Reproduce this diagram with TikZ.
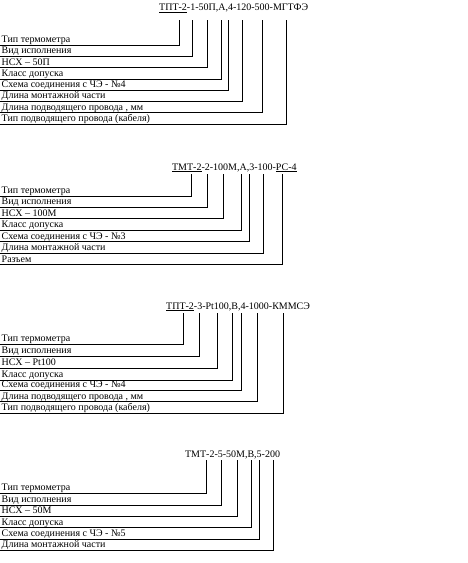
\documentclass[tikz,border=0pt]{standalone}
\usepackage{fontspec}
\setmainfont{Liberation Serif}
\usetikzlibrary{positioning}

\begin{document}
\begin{tikzpicture}[
    x=1pt, y=-1pt,
    font=\fontsize{10}{12}\selectfont,
    code/.style={anchor=base west, inner sep=0pt},
    lbl/.style={
        anchor=south west,
        inner xsep=1.5pt,
        inner ysep=2pt,
        text depth=0pt
    },
    conn/.style={line width=0.9pt}
]
\useasboundingbox (0,0) rectangle (468,563);

% Block 1
\node[code] (t1) at (159,10.5) {\underline{ТПТ-2}-1-50П,А,4-120-500-МГТФЭ};

\coordinate (a1) at (179,20);
\coordinate (a2) at (192,20);
\coordinate (a3) at (207,20);
\coordinate (a4) at (221,20);
\coordinate (a5) at (228,20);
\coordinate (a6) at (242,20);
\coordinate (a7) at (262,20);
\coordinate (a8) at (286,20);

\node[lbl] (ra1) at (0,45)    {Тип термометра};
\node[lbl] (ra2) at (0,56)    {Вид исполнения};
\node[lbl] (ra3) at (0,67.5)  {НСХ – 50П};
\node[lbl] (ra4) at (0,79)    {Класс допуска};
\node[lbl] (ra5) at (0,90)    {Схема соединения с ЧЭ - №4};
\node[lbl] (ra6) at (0,101)   {Длина монтажной части};
\node[lbl] (ra7) at (0,112.5) {Длина подводящего провода , мм};
\node[lbl] (ra8) at (0,124)   {Тип подводящего провода (кабеля)};

\draw[conn] (a1) |- (ra1.south west);
\draw[conn] (a2) |- (ra2.south west);
\draw[conn] (a3) |- (ra3.south west);
\draw[conn] (a4) |- (ra4.south west);
\draw[conn] (a5) |- (ra5.south west);
\draw[conn] (a6) |- (ra6.south west);
\draw[conn] (a7) |- (ra7.south west);
\draw[conn] (a8) |- (ra8.south west);

% Block 2
\node[code] (t2) at (172,170) {\underline{ТМТ-2}-2-100М,А,3-100-\underline{РС-4}};

\coordinate (b1) at (191,174);
\coordinate (b2) at (207,174);
\coordinate (b3) at (223,174);
\coordinate (b4) at (241,174);
\coordinate (b5) at (249,174);
\coordinate (b6) at (263,174);
\coordinate (b7) at (282,174);

\node[lbl] (rb1) at (0,196)   {Тип термометра};
\node[lbl] (rb2) at (0,207)   {Вид исполнения};
\node[lbl] (rb3) at (0,218.5) {НСХ – 100М};
\node[lbl] (rb4) at (0,230)   {Класс допуска};
\node[lbl] (rb5) at (0,241.5) {Схема соединения с ЧЭ - №3};
\node[lbl] (rb6) at (0,253)   {Длина монтажной части};
\node[lbl] (rb7) at (0,264.5) {Разъем};

\draw[conn] (b1) |- (rb1.south west);
\draw[conn] (b2) |- (rb2.south west);
\draw[conn] (b3) |- (rb3.south west);
\draw[conn] (b4) |- (rb4.south west);
\draw[conn] (b5) |- (rb5.south west);
\draw[conn] (b6) |- (rb6.south west);
\draw[conn] (b7) |- (rb7.south west);

% Block 3
\node[code] (t3) at (166,309) {\underline{ТПТ-2}-3-Pt100,В,4-1000-КММСЭ};

\coordinate (c1) at (183,313);
\coordinate (c2) at (199,313);
\coordinate (c3) at (217,313);
\coordinate (c4) at (232,313);
\coordinate (c5) at (241,313);
\coordinate (c6) at (257,313);
\coordinate (c7) at (283,313);

\node[lbl] (rc1) at (0,344)   {Тип термометра};
\node[lbl] (rc2) at (0,356)   {Вид исполнения};
\node[lbl] (rc3) at (0,368)   {НСХ – Pt100};
\node[lbl] (rc4) at (0,380)   {Класс допуска};
\node[lbl] (rc5) at (0,390)   {Схема соединения с ЧЭ - №4};
\node[lbl] (rc6) at (0,401.5) {Длина подводящего провода , мм};
\node[lbl] (rc7) at (0,413)   {Тип подводящего провода (кабеля)};

\draw[conn] (c1) |- (rc1.south west);
\draw[conn] (c2) |- (rc2.south west);
\draw[conn] (c3) |- (rc3.south west);
\draw[conn] (c4) |- (rc4.south west);
\draw[conn] (c5) |- (rc5.south west);
\draw[conn] (c6) |- (rc6.south west);
\draw[conn] (c7) |- (rc7.south west);

% Block 4
\node[code] (t4) at (185,457) {ТМТ-2-5-50М,В,5-200};

\coordinate (d1) at (206,460);
\coordinate (d2) at (221,460);
\coordinate (d3) at (237,460);
\coordinate (d4) at (251,460);
\coordinate (d5) at (259,460);
\coordinate (d6) at (273,460);

\node[lbl] (rd1) at (0,493)   {Тип термометра};
\node[lbl] (rd2) at (0,505)   {Вид исполнения};
\node[lbl] (rd3) at (0,516)   {НСХ – 50М};
\node[lbl] (rd4) at (0,527.5) {Класс допуска};
\node[lbl] (rd5) at (0,539)   {Схема соединения с ЧЭ - №5};
\node[lbl] (rd6) at (0,550)   {Длина монтажной части};

\draw[conn] (d1) |- (rd1.south west);
\draw[conn] (d2) |- (rd2.south west);
\draw[conn] (d3) |- (rd3.south west);
\draw[conn] (d4) |- (rd4.south west);
\draw[conn] (d5) |- (rd5.south west);
\draw[conn] (d6) |- (rd6.south west);

\end{tikzpicture}
\end{document}
